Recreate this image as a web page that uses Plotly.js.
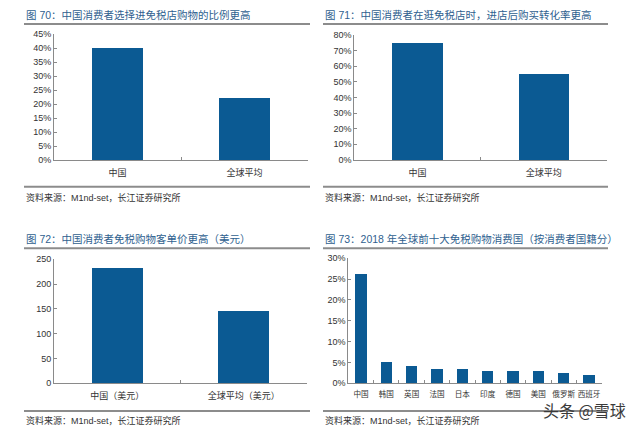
<!DOCTYPE html>
<html><head><meta charset="utf-8">
<script src="https://cdn.plot.ly/plotly-3.0.1.min.js"></script>
<style>html,body{margin:0;padding:0;background:#fff}#c{width:640px;height:429px}</style>
</head><body><div id="c"></div>
<script>
// Chart 70
const cats70 = ['中国', '全球平均'];
const vals70 = [40, 22.3];
// Chart 71
const cats71 = ['中国', '全球平均'];
const vals71 = [75, 55];
// Chart 72
const cats72 = ['中国（美元）', '全球平均（美元）'];
const vals72 = [233, 146];
// Chart 73
const cats73 = ['中国', '韩国', '英国', '法国', '日本', '印度', '德国', '美国', '俄罗斯', '西班牙'];
const vals73 = [26.2, 5.0, 4.2, 3.4, 3.4, 2.9, 2.9, 2.9, 2.5, 2.1];

const titles = [
  '图 70：中国消费者选择进免税店购物的比例更高',
  '图 71：中国消费者在逛免税店时，进店后购买转化率更高',
  '图 72：中国消费者免税购物客单价更高（美元）',
  '图 73：2018 年全球前十大免税购物消费国（按消费者国籍分）'
];
const source = '资料来源：M1nd-set，长江证券研究所';

const W = 640, H = 429;
const px = x => x / W;
const py = y => (H - y) / H;
const FONT = 'Liberation Sans, Noto Sans CJK SC, sans-serif';
const BAR = '#0b5a93';
const AX = '#8a8a8a';

const traces = [
  {type: 'bar', x: cats70, y: vals70, xaxis: 'x', yaxis: 'y', width: 0.4},
  {type: 'bar', x: cats71, y: vals71, xaxis: 'x2', yaxis: 'y2', width: 0.4},
  {type: 'bar', x: cats72, y: vals72, xaxis: 'x3', yaxis: 'y3', width: 0.4},
  {type: 'bar', x: cats73, y: vals73, xaxis: 'x4', yaxis: 'y4', width: 0.45}
].map(t => Object.assign(t, {marker: {color: BAR}, hoverinfo: 'none', showlegend: false}));

function xa(dom, anchor, fs) {
  return {domain: dom, anchor: anchor, showline: true, linecolor: AX, linewidth: 1,
    ticks: 'inside', tickson: 'boundaries', ticklen: 3, tickcolor: AX, tickangle: 0,
    ticklabelstandoff: 4,
    showgrid: false, zeroline: false, fixedrange: true,
    tickfont: {family: FONT, size: fs || 9, color: '#333'}};
}
function ya(dom, anchor, range, dtick, suffix) {
  return {domain: dom, anchor: anchor, range: range, dtick: dtick, tick0: 0, ticksuffix: suffix,
    showline: true, linecolor: AX, linewidth: 1, ticks: 'inside', ticklen: 3, tickcolor: AX,
    showgrid: false, zeroline: false, fixedrange: true,
    tickfont: {family: FONT, size: 9, color: '#333'}};
}

const layout = {
  width: W, height: H, margin: {l: 0, r: 0, t: 0, b: 0},
  paper_bgcolor: '#fff', plot_bgcolor: '#fff', bargap: 0,
  xaxis: xa([px(54), px(308)], 'y'),
  yaxis: ya([py(160), py(34.3)], 'x', [0, 45], 5, '%'),
  xaxis2: xa([px(354.3), px(607)], 'y2'),
  yaxis2: ya([py(160), py(34.7)], 'x2', [0, 80], 10, '%'),
  xaxis3: xa([px(54), px(307)], 'y3'),
  yaxis3: ya([py(383.3), py(259.3)], 'x3', [0, 250], 50, ''),
  xaxis4: xa([px(348.3), px(601.7)], 'y4', 7.6),
  yaxis4: ya([py(383.3), py(258.3)], 'x4', [0, 30], 5, '%'),
  shapes: [],
  annotations: []
};

const blocks = [
  {x0: 24, x1: 310, tTop: 15, uLine: 24, bLine: 186.7, src: 197},
  {x0: 323, x1: 608, tTop: 15, uLine: 24, bLine: 186.7, src: 197},
  {x0: 24, x1: 310, tTop: 239, uLine: 248.3, bLine: 411, src: 420},
  {x0: 323, x1: 608, tTop: 239, uLine: 248.3, bLine: 411, src: 420}
];
blocks.forEach((b, i) => {
  layout.shapes.push({type: 'line', xref: 'paper', yref: 'paper', x0: px(b.x0), x1: px(b.x1),
    y0: py(b.uLine), y1: py(b.uLine), line: {color: '#8c8c8c', width: 2}});
  layout.shapes.push({type: 'line', xref: 'paper', yref: 'paper', x0: px(b.x0), x1: px(b.x1),
    y0: py(b.bLine), y1: py(b.bLine), line: {color: '#8c8c8c', width: 2}});
  layout.annotations.push({xref: 'paper', yref: 'paper', x: px(b.x0), y: py(b.tTop),
    xanchor: 'left', yanchor: 'middle', showarrow: false, text: titles[i],
    font: {family: FONT, size: 10.5, color: '#2f5f8f'}});
  layout.annotations.push({xref: 'paper', yref: 'paper', x: px(b.x0), y: py(b.src),
    xanchor: 'left', yanchor: 'middle', showarrow: false, text: source,
    font: {family: FONT, size: 9, color: '#333'}});
});
layout.annotations.push({xref: 'paper', yref: 'paper', x: px(628), y: py(410),
  xanchor: 'right', yanchor: 'middle', showarrow: false, text: '头条 @雪球',
  font: {family: 'Noto Sans CJK SC, sans-serif', size: 16, color: '#3a3a3a'},
  bgcolor: 'rgba(255,255,255,0)'});

Plotly.newPlot('c', traces, layout, {staticPlot: true, displayModeBar: false});
</script></body></html>
